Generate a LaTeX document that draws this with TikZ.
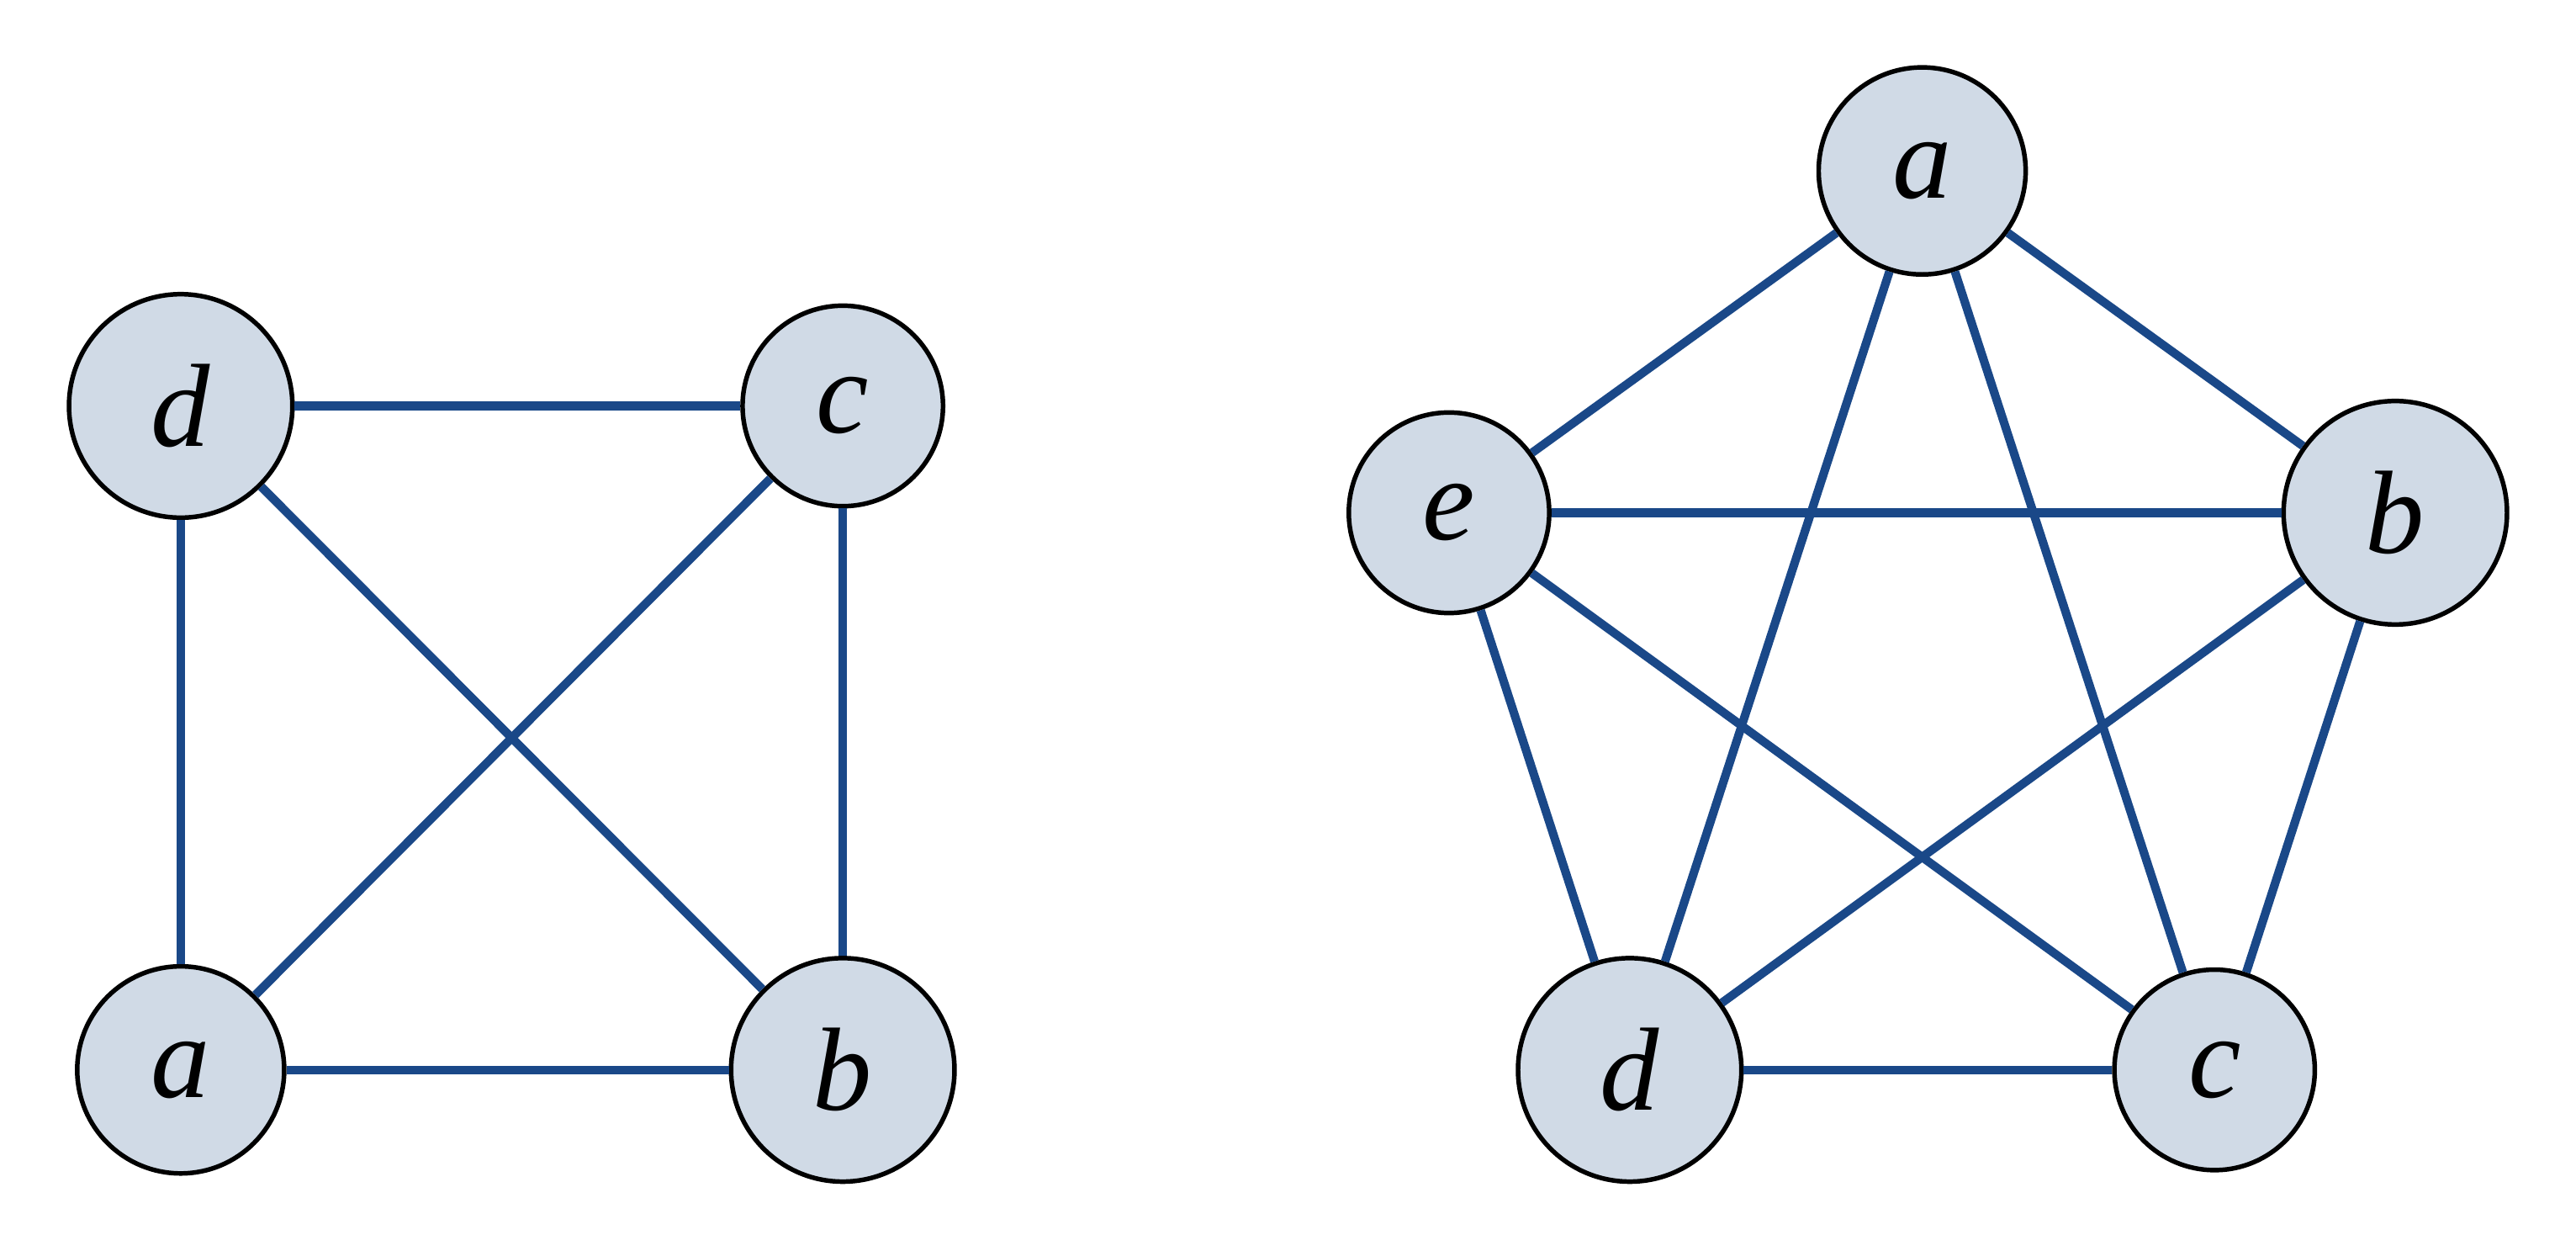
\documentclass[tikz,border=0pt]{standalone}
\usepackage{fontspec}
\setmainfont{Liberation Serif}
\begin{document}
\begin{tikzpicture}[x=0.5pt,y=-0.5pt,
  v/.style={circle,draw=black,line width=1.4pt,fill=nodefill,inner sep=0pt,font=\fontsize{36}{40}\selectfont\itshape},
  big/.style={v,minimum size=68pt},
  small/.style={v,minimum size=61pt},
  e/.style={draw=edgec,line width=2.6pt}]
\definecolor{nodefill}{HTML}{D0DAE6}
\definecolor{edgec}{HTML}{1A4888}
\useasboundingbox (0,0) rectangle (1568,761);
% left graph
\node[big] (Ld) at (110,247) {d};
\node[small] (Lc) at (513,247) {c};
\node[v,minimum size=63pt] (La) at (110,651) {a};
\node[big] (Lb) at (513,651) {b};
% right graph
\node[v,minimum size=63pt] (Ra) at (1170,104) {a};
\node[small] (Re) at (882,312) {e};
\node[big] (Rb) at (1458,312) {b};
\node[big] (Rd) at (992,651) {d};
\node[small] (Rc) at (1348,651) {c};
\begin{scope}[on background layer/.style={}]
\draw[e] (Ld) -- (Lc);
\draw[e] (Ld) -- (La);
\draw[e] (Ld) -- (Lb);
\draw[e] (Lc) -- (La);
\draw[e] (Lc) -- (Lb);
\draw[e] (La) -- (Lb);
\draw[e] (Ra) -- (Re);
\draw[e] (Ra) -- (Rb);
\draw[e] (Ra) -- (Rd);
\draw[e] (Ra) -- (Rc);
\draw[e] (Re) -- (Rb);
\draw[e] (Re) -- (Rd);
\draw[e] (Re) -- (Rc);
\draw[e] (Rb) -- (Rd);
\draw[e] (Rb) -- (Rc);
\draw[e] (Rd) -- (Rc);
\end{scope}
\end{tikzpicture}
\end{document}
